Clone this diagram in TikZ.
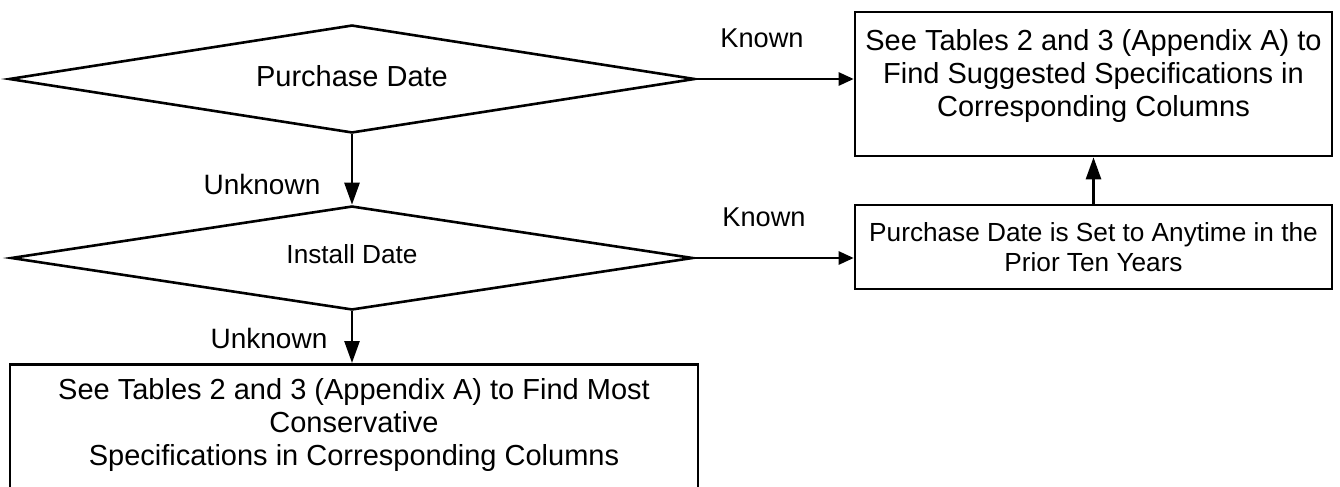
\documentclass[tikz,border=0pt]{standalone}
\usepackage{fontspec}
\setmainfont{Liberation Sans}
\usetikzlibrary{shapes.geometric,arrows.meta}
\begin{document}
\begin{tikzpicture}[x=0.5pt,y=-0.5pt,
  line width=1.3pt,
  bigfont/.style={font=\fontsize{14.5pt}{16.5pt}\selectfont},
  smallfont/.style={font=\fontsize{13.1pt}{15pt}\selectfont},
  dec/.style={draw, diamond, inner sep=0pt, aspect=6.35},
  box/.style={draw, rectangle, inner sep=0pt},
  harrow/.style={-{Triangle[length=7.5pt,width=6.5pt]}},
  varrow/.style={-{Triangle[length=11pt,width=7.5pt]}},
  lbl/.style={font=\fontsize{14pt}{16pt}\selectfont, inner sep=0pt},
  klbl/.style={font=\fontsize{13.6pt}{16pt}\selectfont, inner sep=0pt}
]
\useasboundingbox (0,0) rectangle (1340,487);

\node[dec, bigfont, minimum width=343pt, minimum height=54pt] (d1) at (352,79) {\raisebox{1.5pt}[\height][\depth]{Purchase Date}};
\node[dec, smallfont, minimum width=341pt, minimum height=52pt] (d2) at (352,258) {\raisebox{2pt}[\height][\depth]{Install Date}};

\node[box, minimum width=238.5pt, minimum height=72pt,
  label={[bigfont, align=center, yshift=4pt]center:{See Tables 2 and 3 (Appendix A) to\\Find Suggested Specifications in\\Corresponding Columns}}]
  (tr) at (1093.5,84) {};

\node[box, smallfont, align=center, minimum width=238.5pt, minimum height=42pt]
  (mr) at (1093.5,247) {Purchase Date is Set to Anytime in the\\Prior Ten Years};

\node[box, anchor=north, minimum width=344pt, minimum height=75pt,
  label={[bigfont, align=center, yshift=7pt]center:{See Tables 2 and 3 (Appendix A) to Find Most\\Conservative\\Specifications in Corresponding Columns}}]
  (bb) at (354,363) {};

\draw[harrow] (d1.east) -- (tr.west |- d1.east);
\draw[varrow] (d1.south) -- (d2.north);
\draw[harrow] (d2.east) -- (mr.west |- d2.east);
\draw[varrow] (mr.north) -- (tr.south);
\draw[varrow] (d2.south) -- (d2.south |- bb.north);

\node[klbl] (k1) at (762,38) {Known};
\node[klbl] (k2) at (764,217) {Known};
\node[lbl] (u1) at (262,184) {Unknown};
\node[lbl] (u2) at (269,338) {Unknown};
\end{tikzpicture}
\end{document}
